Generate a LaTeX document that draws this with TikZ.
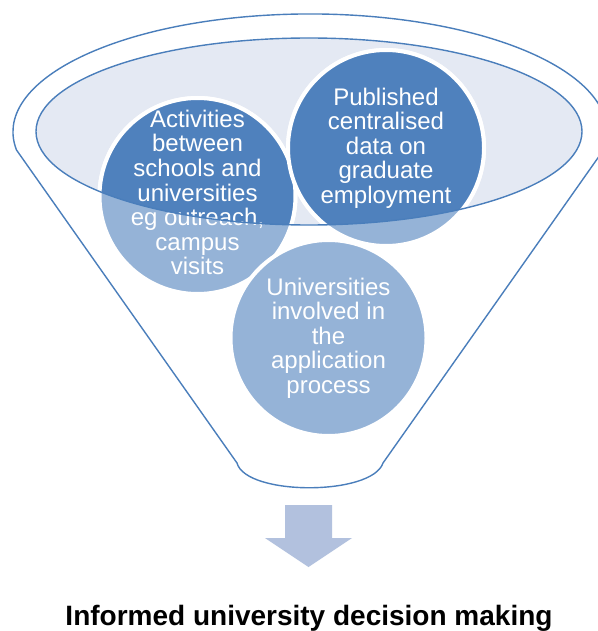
\documentclass[tikz,border=0pt]{standalone}
\usepackage{fontspec}
\setmainfont{Liberation Sans}
\usetikzlibrary{positioning}

\definecolor{rimblue}{HTML}{4A7EBB}
\definecolor{darkdisc}{HTML}{4F81BD}
\definecolor{lightdisc}{HTML}{95B3D7}
\definecolor{mouthfill}{HTML}{E4E9F3}
\definecolor{arrowfill}{HTML}{B2C1DE}

\tikzset{
  rim/.style       = {draw=rimblue, line width=1.4pt},
  disc/.style      = {circle, draw=white, line width=4pt, fill=lightdisc,
                      minimum size=196pt, inner sep=0pt},
  disc dark/.style = {disc, fill=darkdisc},
  disctext/.style  = {align=center, text=white, inner sep=0pt,
                      font=\fontsize{24}{24.6}\selectfont},
  outcome/.style   = {inner sep=0pt, font=\bfseries\fontsize{28}{30}\selectfont}
}

\begin{document}
\begin{tikzpicture}[x=1pt, y=-1pt]
  \useasboundingbox (0,0) rectangle (597,631);
  \fill[white] (0,0) rectangle (597,631);

  % funnel body: upper rim, the two sides and the rounded spout
  \coordinate (mouth) at (309,131.5);
  \draw[rim] (16.5,150) arc[start angle=171.2, end angle=368.8,
      x radius=297, y radius=118]
    -- (383,463) .. controls (372,496) and (246,496) .. (237,463) -- cycle;

  % mouth of the funnel
  \fill[mouthfill] (mouth) ellipse [x radius=273, y radius=93.5];

  % the three discs, lighter tone outside the mouth
  \node[disc] (act) at (197.5,196) {};
  \node[disc] (pub) at (386,148) {};
  \node[disc] (uni) at (328.5,338) {};

  % darker tone where the discs sit inside the mouth
  \begin{scope}
    \clip (mouth) ellipse [x radius=273, y radius=93.5];
    \node[disc dark] (act dark) at (act) {};
    \node[disc dark] (pub dark) at (pub) {};
  \end{scope}

  % texts of the discs
  \begin{scope}[every node/.style={disctext}]
  \node[yshift=3.5pt] (act text) at (act)
    {Activities\\between\\schools and\\universities\\eg outreach,\\campus\\visits};
  \node (pub text) at (pub)
    {Published\\centralised\\data on\\graduate\\employment};
  \node (uni text) at (uni)
    {Universities\\involved in\\the\\application\\process};
  \end{scope}

  % rim of the mouth, over the discs
  \draw[rim] (mouth) ellipse [x radius=273, y radius=93.5];

  % block arrow down to the outcome
  \fill[arrowfill] (285,505) -- (332,505) -- (332,538) -- (352,538)
    -- (308.5,567) -- (265,538) -- (285,538) -- cycle;
  \node[outcome, anchor=base] (goal) at (309,625)
    {Informed university decision making};
\end{tikzpicture}
\end{document}
